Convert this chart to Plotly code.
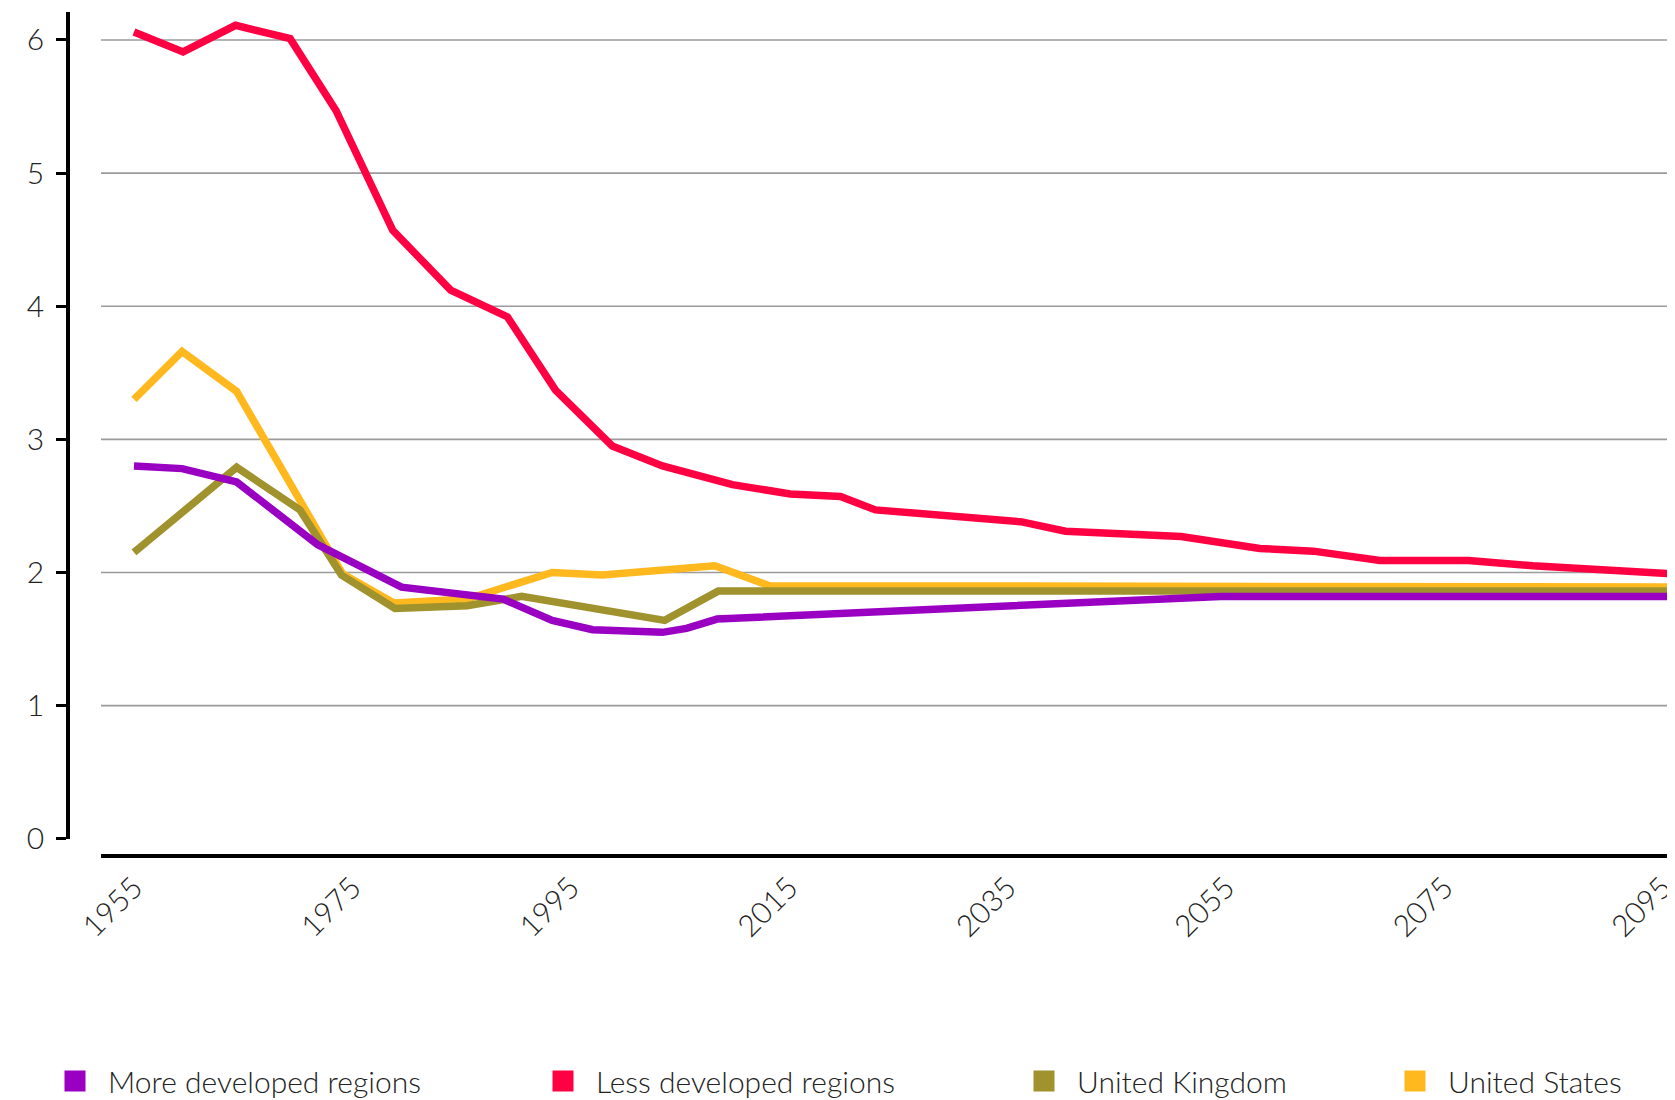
import plotly.graph_objects as go

# ---- data ----
more_dev_years = [1955, 1959.4, 1964.4, 1971.8, 1979.5, 1988.8, 1993.3, 1997.0, 2003.4, 2005.6, 2008.4, 2054.5, 2100]
more_dev_vals  = [2.80, 2.78, 2.68, 2.21, 1.89, 1.80, 1.64, 1.57, 1.55, 1.58, 1.65, 1.82, 1.82]

less_dev_years = [1955, 1959.5, 1964.3, 1969.3, 1973.5, 1978.7, 1984.0, 1989.2, 1993.6, 1998.8, 2003.4, 2009.8,
                  2015.1, 2019.7, 2022.9, 2030.9, 2036.3, 2040.3, 2050.9, 2058.1, 2063.0, 2069.1, 2077.2,
                  2083.1, 2100]
less_dev_vals  = [6.06, 5.91, 6.11, 6.01, 5.47, 4.57, 4.12, 3.92, 3.37, 2.95, 2.80, 2.66,
                  2.59, 2.57, 2.47, 2.42, 2.38, 2.31, 2.27, 2.18, 2.16, 2.09, 2.09,
                  2.05, 1.97]

uk_years = [1955, 1964.4, 1970.2, 1974.0, 1978.9, 1985.5, 1990.5, 2003.6, 2008.5, 2100]
uk_vals  = [2.15, 2.79, 2.47, 1.98, 1.73, 1.75, 1.82, 1.64, 1.86, 1.86]

us_years = [1955, 1959.4, 1964.4, 1974.1, 1978.8, 1985.5, 1993.3, 1997.9, 2008.2, 2013.2, 2100]
us_vals  = [3.30, 3.66, 3.36, 1.99, 1.77, 1.80, 2.00, 1.98, 2.05, 1.90, 1.89]

series_names = ["More developed regions", "Less developed regions", "United Kingdom", "United States"]
series_colors = ["#9900C2", "#FF0043", "#A0922C", "#FFB81E"]

x_tick_vals = [1955, 1975, 1995, 2015, 2035, 2055, 2075, 2095]
y_tick_vals = [0, 1, 2, 3, 4, 5, 6]
grid_vals = [1, 2, 3, 4, 5, 6]

FONT = "Lato"
TEXT_COLOR = "#222222"

# page layout (targets in page pixels; the page body adds an 8px offset)
OFF = 8
W, H = 1675, 1100
ml, mr, mt, mb = 68 - OFF, OFF, 12 - OFF, 150
paper_h = H - mt - mb
paper_w = W - ml - mr
y_bottom_px = 838.7 - OFF
x_axis_px = 856 - OFF
plot_left_px = 101 - OFF
legend_center_y_px = 1081 - OFF
legend_symbol_centers_px = [c - OFF for c in (75, 563, 1044, 1415)]
legend_itemwidth = 56

fig = go.Figure()

data_by_name = {
    "More developed regions": (more_dev_years, more_dev_vals),
    "Less developed regions": (less_dev_years, less_dev_vals),
    "United Kingdom": (uk_years, uk_vals),
    "United States": (us_years, us_vals),
}
color_by_name = dict(zip(series_names, series_colors))
legend_ids = ["legend", "legend2", "legend3", "legend4"]
legend_by_name = dict(zip(series_names, legend_ids))

# drawing order (later on top): US, UK, Less developed, More developed
for name in ["United States", "United Kingdom", "Less developed regions", "More developed regions"]:
    xs, ys = data_by_name[name]
    fig.add_trace(go.Scatter(
        x=xs, y=ys, mode="lines", name=name, legendgroup=name, showlegend=False,
        line=dict(color=color_by_name[name], width=7.5), hoverinfo="x+y+name",
    ))

# legend entries (square swatches), each in its own positioned legend
for name in series_names:
    fig.add_trace(go.Scatter(
        x=[None], y=[None], mode="markers", name=name, legendgroup=name,
        legend=legend_by_name[name],
        marker=dict(symbol="square", size=16, color=color_by_name[name],
                    line=dict(color=color_by_name[name], width=5)),
    ))

for v in grid_vals:
    fig.add_hline(y=v, line=dict(color="#9b9b9b", width=1.6), layer="below")

legend_font = dict(family=FONT, size=30, color=TEXT_COLOR, weight=300)
legend_layouts = {}
for lid, cx in zip(legend_ids, legend_symbol_centers_px):
    left_px = cx - legend_itemwidth / 2 - 5
    legend_layouts[lid] = dict(
        orientation="h", x=(left_px - ml) / paper_w, xanchor="left",
        y=(H - mb - legend_center_y_px) / paper_h, yanchor="middle",
        font=legend_font, bgcolor="rgba(0,0,0,0)", borderwidth=0,
        itemwidth=legend_itemwidth, itemclick=False, itemdoubleclick=False,
    )

fig.update_layout(
    width=W, height=H,
    margin=dict(l=ml, r=mr, t=mt, b=mb, autoexpand=False),
    paper_bgcolor="white", plot_bgcolor="white",
    font=dict(family=FONT, size=27, color=TEXT_COLOR, weight=300),
    xaxis=dict(
        range=[1951.98, 2096.12],
        domain=[(plot_left_px - ml) / paper_w, 1],
        anchor="free", position=(H - mb - x_axis_px) / paper_h,
        tickvals=x_tick_vals, ticktext=[str(v) for v in x_tick_vals],
        tickangle=-45, showgrid=False, zeroline=False, automargin=False,
        showline=True, linecolor="black", linewidth=4,
        ticks="", tickfont=dict(family=FONT, size=30, color=TEXT_COLOR, weight=300),
    ),
    yaxis=dict(
        range=[0, 6.21],
        domain=[(H - mb - y_bottom_px) / paper_h, 1],
        anchor="free", position=0, automargin=False,
        tickvals=y_tick_vals, showgrid=False, zeroline=False,
        showline=True, linecolor="black", linewidth=3.5,
        ticks="outside", ticklen=10, tickwidth=3, tickcolor="black",
        ticklabelstandoff=6,
        tickfont=dict(family=FONT, size=30, color=TEXT_COLOR, weight=300),
    ),
    showlegend=True,
    **legend_layouts,
)

fig.write_html("out.html")
